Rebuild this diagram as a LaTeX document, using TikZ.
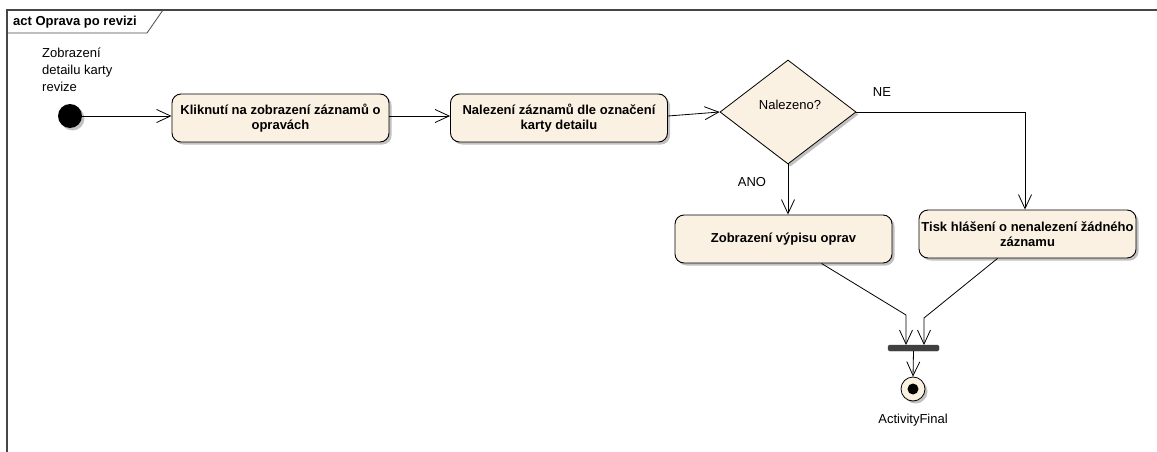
\documentclass[tikz,border=0pt]{standalone}
\usepackage{fontspec}
\setmainfont{Liberation Sans}
\usetikzlibrary{arrows.meta,shapes.geometric,shadows,calc}
\definecolor{actfill}{RGB}{251,241,226}
\definecolor{framecol}{RGB}{70,70,70}
\definecolor{barcol}{RGB}{64,64,64}
\tikzset{
  flow/.style={draw=black, line width=0.8pt, -{Straight Barb[length=14pt,width=13pt,line width=0.8pt]}},
  softshadow/.style={drop shadow={shadow xshift=2.5pt, shadow yshift=-2.5pt, opacity=0.35, fill=black!70}},
  action/.style={draw=black, line width=0.9pt, fill=actfill, rounded corners=9pt,
    minimum width=217pt, minimum height=48pt, align=center, inner sep=2pt,
    font=\fontsize{13}{15.5}\selectfont\bfseries, softshadow},
  decision/.style={diamond, draw=black, line width=0.8pt, fill=actfill,
    minimum width=136pt, minimum height=104pt, inner sep=0pt, aspect=1.3, softshadow},
  lbl/.style={font=\fontsize{13}{17}\selectfont, inner sep=0pt},
}
\begin{document}
\begin{tikzpicture}[x=1pt,y=-1pt]
\useasboundingbox (0,0) rectangle (1157,452);
% diagram frame and its title tab
\draw[framecol, line width=1.2pt] (7,452) -- (7,10) -- (1157,10);
\draw[framecol, line width=0.8pt] (7,33) -- (147,33) -- (163,10);
\node[lbl, anchor=west, font=\fontsize{13}{15}\selectfont\bfseries] (title) at (13,22) {act Oprava po revizi};

% start node
\node[circle, fill=black, minimum size=24pt, inner sep=0pt, softshadow] (start) at (70,116) {};
\node[lbl, anchor=north west, align=left] (startlbl) at (42,48) {Zobrazení\\detailu karty\\revize};

% actions
\node[action] (a1) at (280.5,118) {Kliknutí na zobrazení záznamů o\\opravách};
\node[action] (a2) at (559,118) {Nalezení záznamů dle označení\\karty detailu};
\node[decision] (d) at (788,112) {};
\node[lbl] (dlbl) at (790,105) {Nalezeno?};
\node[action] (a3) at (783.5,239) {Zobrazení výpisu oprav};
\node[action] (a4) at (1027.5,234) {Tisk hlášení o nenalezení žádného\\záznamu};

% join bar and final node
\node[draw=barcol, fill=barcol, rounded corners=1.5pt, minimum width=51pt, minimum height=6pt, inner sep=0pt] (bar) at (913.5,348) {};
\node[circle, draw=black, line width=0.8pt, fill=actfill, minimum size=24pt, inner sep=0pt, softshadow] (fin) at (913,389) {};
\node[circle, fill=black, minimum size=11pt, inner sep=0pt] (findot) at (fin.center) {};
\node[lbl] (finlbl) at (913,420) {ActivityFinal};

% guard labels
\node[lbl] (ne) at (882,92) {NE};
\node[lbl] (ano) at (752,182) {ANO};

% control flows
\draw[flow] (start.east) -- (a1.west |- start.east);
\draw[flow] (a1.east |- start.east) -- (a2.west |- start.east);
\draw[flow] (a2.east |- start.east) -- (d.west);
\draw[flow] (d.south) -- (d.south |- a3.north);
\draw[flow] (d.east) -- (1025,112) -- (1025,112 |- a4.north);
\draw[flow] ($(a3.south)+(38,0)$) -- (906,315) -- (906,345);
\draw[flow] ($(a4.south)+(-30,0)$) -- (924,318) -- (924,345);
\draw[flow] (bar.south) -- (fin.north);
\end{tikzpicture}
\end{document}
